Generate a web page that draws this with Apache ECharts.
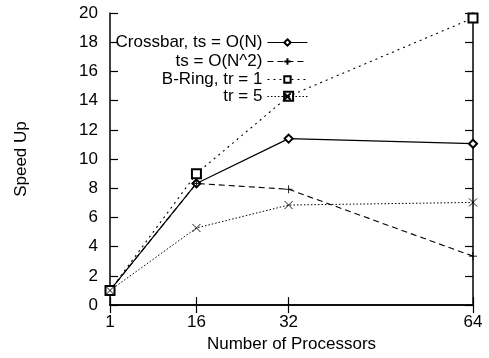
<!DOCTYPE html>
<html>
<head>
<meta charset="utf-8">
<script src="https://cdn.jsdelivr.net/npm/echarts@6/dist/echarts.min.js"></script>
<style>
  html, body { margin: 0; padding: 0; background: #fff; }
  #chart { width: 489px; height: 358px; }
</style>
</head>
<body>
<div id="chart"></div>
<script>
// processors on the x axis
var processors = [1, 16, 32, 64];
var xTicks = [1, 16, 32, 64];
var crossbarN = [1, 8.33, 11.4, 11.05];
var crossbarN2 = [1, 8.33, 7.93, 3.35];
var bringTr1 = [1, 9.0, 14.3, 19.65];
var bringTr5 = [1, 5.28, 6.85, 7.03];
var seriesNames = ['Crossbar, ts = O(N)', 'ts = O(N^2)', 'B-Ring, tr = 1', 'tr = 5'];

var FONT = 'Liberation Sans, Arial, sans-serif';
var myChart = echarts.init(document.getElementById('chart'));

function pairs(vals) {
  return processors.map(function (p, i) { return [p, vals[i]]; });
}

var plusPath = 'path://M0,5L10,5M5,0L5,10';
var crossPath = 'path://M0,0L10,10M10,0L0,10';

function mkSeries(name, vals, symbol, size, dash, width) {
  return {
    name: name,
    type: 'line',
    xAxisIndex: 0,
    yAxisIndex: 0,
    data: pairs(vals),
    symbol: symbol,
    symbolSize: size,
    showAllSymbol: true,
    animation: false,
    lineStyle: { color: '#000', width: width, type: dash },
    itemStyle: { color: '#000', borderColor: '#000', borderWidth: 0.9 },
    emphasis: { disabled: true }
  };
}

function mkLegend(name, top, dash) {
  return {
    data: [name],
    right: 181,
    top: top,
    align: 'right',
    orient: 'vertical',
    itemWidth: 40,
    itemHeight: 8,
    padding: 0,
    selectedMode: false,
    lineStyle: { width: 1.1, type: dash },
    textStyle: { fontFamily: FONT, fontSize: 17, color: '#000' }
  };
}

var boxAxisLine = { show: true, lineStyle: { color: '#000', width: 1.5 } };

myChart.setOption({
  backgroundColor: '#fff',
  animation: false,
  grid: { left: 110, right: 16, top: 13, bottom: 49 },
  legend: [
    mkLegend(seriesNames[0], 34, 'solid'),
    mkLegend(seriesNames[1], 53, [6, 4]),
    mkLegend(seriesNames[2], 71, [2, 4]),
    mkLegend(seriesNames[3], 88, [1.5, 2])
  ],
  xAxis: [{
    type: 'value',
    min: 1,
    max: 64,
    name: 'Number of Processors',
    nameLocation: 'middle',
    nameGap: 28,
    nameTextStyle: { fontFamily: FONT, fontSize: 17, color: '#000' },
    axisLine: boxAxisLine,
    axisTick: { show: true, inside: true, length: 8, customValues: xTicks, lineStyle: { color: '#000', width: 1.2 } },
    axisLabel: { customValues: xTicks, fontFamily: FONT, fontSize: 17, color: '#000', margin: 9 },
    splitLine: { show: false }
  }, {
    type: 'value',
    position: 'top',
    min: 1,
    max: 64,
    axisLine: boxAxisLine,
    axisTick: { show: true, inside: true, length: 8, customValues: xTicks, lineStyle: { color: '#000', width: 1.2 } },
    axisLabel: { show: false },
    splitLine: { show: false }
  }],
  yAxis: [{
    type: 'value',
    min: 0,
    max: 20,
    interval: 2,
    name: 'Speed Up',
    nameLocation: 'middle',
    nameGap: 80,
    nameTextStyle: { fontFamily: FONT, fontSize: 17, color: '#000' },
    axisLine: boxAxisLine,
    axisTick: { show: true, inside: true, length: 8, lineStyle: { color: '#000', width: 1.2 } },
    axisLabel: { fontFamily: FONT, fontSize: 17, color: '#000', margin: 12 },
    splitLine: { show: false }
  }, {
    type: 'value',
    position: 'right',
    min: 0,
    max: 20,
    interval: 2,
    axisLine: boxAxisLine,
    axisTick: { show: true, inside: true, length: 8, lineStyle: { color: '#000', width: 1.2 } },
    axisLabel: { show: false },
    splitLine: { show: false }
  }],
  series: [
    mkSeries(seriesNames[0], crossbarN, 'emptyDiamond', 8, 'solid', 1.2),
    mkSeries(seriesNames[1], crossbarN2, plusPath, 8, [6, 4], 1.1),
    mkSeries(seriesNames[2], bringTr1, 'emptyRect', 9, [2, 4], 1.1),
    mkSeries(seriesNames[3], bringTr5, crossPath, 8, [1.5, 2], 1)
  ]
});
window.addEventListener('resize', function () { myChart.resize(); });
</script>
</body>
</html>
